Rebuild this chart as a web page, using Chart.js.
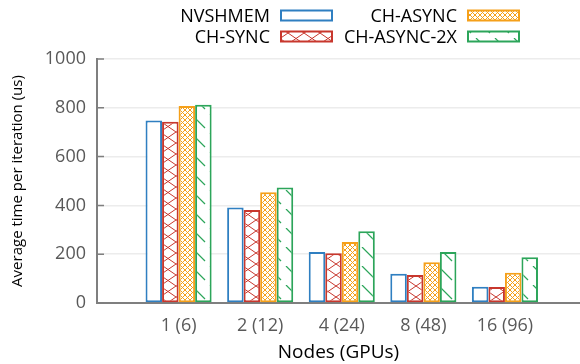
<!DOCTYPE html>
<html>
<head>
<meta charset="utf-8">
<script src="https://cdn.jsdelivr.net/npm/chart.js@4/dist/chart.umd.min.js"></script>
<style>
  html, body { margin: 0; padding: 0; background: #fff; }
  #wrap { width: 580px; height: 364px; }
</style>
</head>
<body>
<div id="wrap"><canvas id="c" width="580" height="364"></canvas></div>
<script>
// Node counts (GPU counts) along the x axis
const categories = ['1 (6)', '2 (12)', '4 (24)', '8 (48)', '16 (96)'];
// Average time per iteration, microseconds
const nvshmem   = [748, 391, 209, 120, 67];
const chSync    = [743, 381, 204, 115, 66];
const chAsync   = [807, 454, 250, 167, 124];
const chAsync2x = [813, 473, 294, 209, 187];
const seriesNames = ['NVSHMEM', 'CH-SYNC', 'CH-ASYNC', 'CH-ASYNC-2X'];
const yTicks = [0, 200, 400, 600, 800, 1000];

const FONT = '"Open Sans", "DejaVu Sans", sans-serif';
const GRAY_TEXT = '#595959';
const AXIS = '#7f7f7f';

// Hatch tiles
function makePattern(w, h, color, lw, draw) {
  const t = document.createElement('canvas');
  t.width = w; t.height = h;
  const g = t.getContext('2d');
  g.fillStyle = '#fff';
  g.fillRect(0, 0, w, h);
  g.strokeStyle = color;
  g.lineWidth = lw;
  draw(g, w, h);
  return g.createPattern(t, 'repeat');
}
const ctxMain = document.getElementById('c').getContext('2d');
const colors = ['#2f7fc1', '#c8372d', '#f5a01a', '#2ca55a'];

const fills = [
  '#ffffff',
  makePattern(16, 11, colors[1], 1, (g, w, h) => {
    g.beginPath();
    g.moveTo(0, 0); g.lineTo(w, h);
    g.moveTo(w, 0); g.lineTo(0, h);
    g.stroke();
  }),
  makePattern(5, 5, colors[2], 1, (g, w, h) => {
    g.beginPath();
    g.moveTo(0, 0); g.lineTo(w, h);
    g.moveTo(w, 0); g.lineTo(0, h);
    g.stroke();
  }),
  makePattern(19, 19, colors[3], 1.2, (g, w, h) => {
    g.beginPath();
    g.moveTo(1, 0); g.lineTo(15, 14);
    g.stroke();
  })
];

const seriesValues = [nvshmem, chSync, chAsync, chAsync2x];

const datasets = seriesNames.map((name, i) => ({
  label: name,
  data: seriesValues[i].map((v, k) => ({ x: k + 1, y: v })),
  backgroundColor: fills[i],
  borderColor: colors[i],
  borderWidth: 2,
  borderSkipped: false,
  barPercentage: 1.0,
  categoryPercentage: 0.81
}));

// Two-column legend, box to the right of each label
const legendPlugin = {
  id: 'sideLegend',
  afterDraw(chart) {
    const c = chart.ctx;
    const textRight = [270, 457];
    const rowY = [15.5, 36.5];
    c.save();
    c.font = '18px ' + FONT;
    c.textAlign = 'right';
    c.textBaseline = 'middle';
    chart.data.datasets.forEach((ds, i) => {
      const col = Math.floor(i / 2), row = i % 2;
      const tx = textRight[col], cy = rowY[row];
      c.fillStyle = '#000';
      c.fillText(ds.label, tx, cy + 1);
      const bx = tx + 11, bw = 51, bh = 10;
      c.fillStyle = ds.backgroundColor;
      c.fillRect(bx, cy - bh / 2, bw, bh);
      c.strokeStyle = ds.borderColor;
      c.lineWidth = 2;
      c.strokeRect(bx, cy - bh / 2, bw, bh);
    });
    c.restore();
  }
};

// Short inward tick marks on the value axis
const innerTicks = {
  id: 'innerTicks',
  afterDatasetsDraw(chart) {
    const y = chart.scales.y;
    const c = chart.ctx;
    c.save();
    c.strokeStyle = AXIS;
    c.lineWidth = 1.5;
    c.beginPath();
    y.ticks.forEach(t => {
      const py = y.getPixelForValue(t.value);
      c.moveTo(chart.chartArea.left, py);
      c.lineTo(chart.chartArea.left + 7, py);
    });
    c.stroke();
    c.restore();
  }
};

new Chart(ctxMain, {
  type: 'bar',
  data: { datasets },
  plugins: [legendPlugin, innerTicks],
  options: {
    responsive: false,
    animation: false,
    layout: { padding: { top: 59, right: 0, left: 0, bottom: 0 } },
    plugins: { legend: { display: false }, tooltip: { enabled: false } },
    scales: {
      x: {
        type: 'linear',
        offset: false,
        min: 0,
        max: 5.92,
        afterBuildTicks(scale) {
          scale.ticks = categories.map((_, k) => ({ value: k + 1 }));
        },
        afterFit(scale) { scale.height = 61; },
        grid: { display: false, drawTicks: false },
        border: { display: true, color: AXIS, width: 2 },
        ticks: {
          padding: 12,
          maxRotation: 0,
          color: GRAY_TEXT,
          font: { family: FONT, size: 18 },
          callback: (v) => categories[v - 1] || ''
        },
        title: {
          display: true,
          text: 'Nodes (GPUs)',
          color: '#000',
          font: { family: FONT, size: 19 },
          padding: { top: -2, bottom: 0 }
        }
      },
      y: {
        min: 0,
        max: 1000,
        afterBuildTicks(scale) {
          scale.ticks = yTicks.map(v => ({ value: v }));
        },
        afterFit(scale) { scale.width = 97; },
        grid: { color: '#ececec', lineWidth: 1.5, drawTicks: false },
        border: { display: true, color: AXIS, width: 2 },
        ticks: {
          padding: 11,
          color: GRAY_TEXT,
          font: { family: FONT, size: 18 },
          callback: (v) => String(v)
        },
        title: {
          display: true,
          text: 'Average time per iteration (us)',
          color: '#000',
          font: { family: FONT, size: 15 },
          padding: { top: 9, bottom: 0 }
        }
      }
    }
  }
});
</script>
</body>
</html>
